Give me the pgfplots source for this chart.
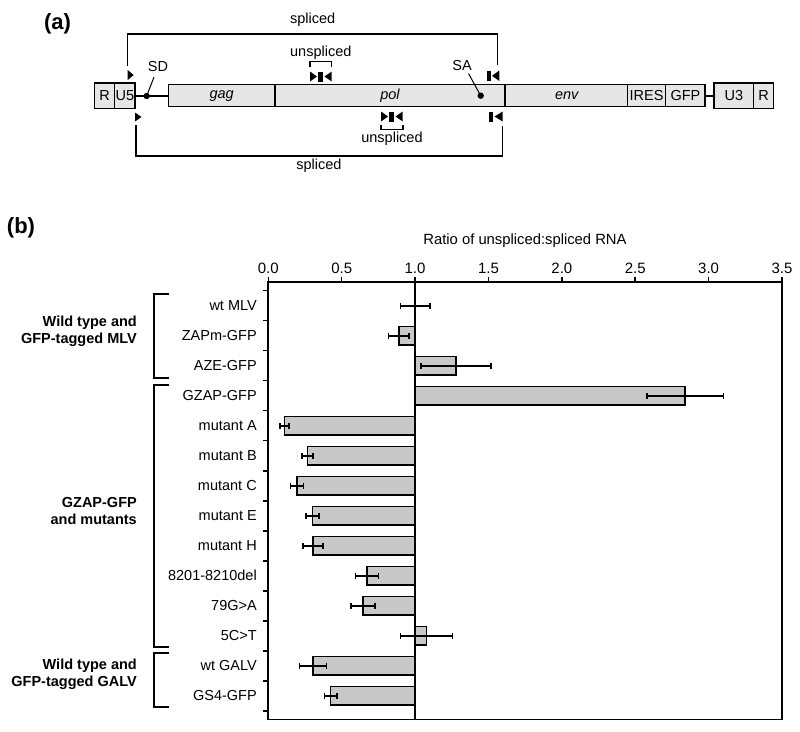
\documentclass[border=0pt]{standalone}
\usepackage{fontspec}
\setmainfont{Liberation Sans}
\usepackage{pgfplots}
\pgfplotsset{compat=1.18}
\usepackage{pgfplotstable}

\definecolor{barfill}{RGB}{200,200,200}
\definecolor{boxfill}{RGB}{230,230,230}

% ratio of unspliced:spliced RNA, one row per construct (top to bottom)
\pgfplotstableread{
idx v     e
0   1.000 0.100
1   0.890 0.070
2   1.278 0.238
3   2.840 0.260
4   0.110 0.030
5   0.268 0.037
6   0.195 0.045
7   0.300 0.045
8   0.305 0.068
9   0.673 0.078
10  0.645 0.083
11  1.078 0.178
12  0.304 0.092
13  0.426 0.044
}\ratios

\newcommand{\lab}{\fontsize{14.5}{17}\selectfont}

\begin{document}
\begin{tikzpicture}
\begin{scope}[x=1pt,y=-1pt]
  \path[use as bounding box] (0,0) rectangle (800,731);

  % ---------- panel (a): provirus schematic ----------
  \node[font=\fontsize{22}{24}\selectfont\bfseries] at (57.5,23.5) {(a)};
  \begin{scope}[line width=1.5pt]
    \draw (135,96) -- (168.3,96);
    \draw (705,96) -- (714,96);
    \filldraw[fill=boxfill] (94.7,83) rectangle (135,108.5);
    \draw (114.7,83) -- (114.7,108.5);
    \filldraw[fill=boxfill] (168.3,84.5) rectangle (705,106.5);
    \foreach \s in {275,505,627.3,665.7} \draw (\s,84.5) -- (\s,106.5);
    \filldraw[fill=boxfill] (714,83) rectangle (773.3,108.5);
    \draw (753.7,83) -- (753.7,108.5);
    % spliced primers
    \draw (127.7,66) -- (127.7,34) -- (497.7,34) -- (497.7,65);
    \draw (136,125) -- (136,156) -- (502.3,156) -- (502.3,126);
    % unspliced brackets
    \draw (310,66.7) -- (310,61.7) -- (331.7,61.7) -- (331.7,66.7);
    \draw (381,125) -- (381,129.5) -- (403,129.5) -- (403,125);
    % SD / SA leaders
    \draw[line width=1pt] (146.7,96) -- (154,77);
    \draw[line width=1pt] (480.7,95.7) -- (468.5,73.5);
  \end{scope}
  \fill (146.7,96) circle (3.2);
  \fill (480.7,95.7) circle (3.2);
  % primer symbols
  \fill (127.7,70) -- (133.7,75) -- (127.7,80) -- cycle;
  \fill (486.7,70.5) rectangle (491,81);
  \fill (499.3,70.5) -- (492,75.8) -- (499.3,81) -- cycle;
  \fill (310,71.5) -- (317,76.5) -- (310,81.5) -- cycle;
  \fill (318.3,71.5) rectangle (322.7,81.5);
  \fill (331.7,71.5) -- (324.5,76.5) -- (331.7,81.5) -- cycle;
  \fill (135,112.5) -- (141.5,117) -- (135,121.5) -- cycle;
  \fill (489,111.5) rectangle (493.3,121.5);
  \fill (502.7,111.5) -- (494.5,116.5) -- (502.7,121.5) -- cycle;
  \fill (381,111.5) -- (388,116.5) -- (381,121.5) -- cycle;
  \fill (389.3,111.5) rectangle (393.5,121.5);
  \fill (402.7,111.5) -- (395.5,116.5) -- (402.7,121.5) -- cycle;
  % texts
  \begin{scope}[every node/.style={font=\lab, inner sep=0pt}]
    \node at (104.7,96) {R};
    \node at (124.9,96) {U5};
    \node at (221.7,96) {\itshape gag};
    \node at (390,96) {\itshape pol};
    \node at (566.7,96) {\itshape env};
    \node at (646.5,96) {IRES};
    \node at (685.4,96) {GFP};
    \node at (733.9,96) {U3};
    \node at (763.5,96) {R};
    \node at (158,66.5) {SD};
    \node at (462,66) {SA};
    \node at (312.7,20) {spliced};
    \node at (319,166) {spliced};
    \node at (320.8,52.5) {unspliced};
    \node at (392,139) {unspliced};
  \end{scope}

  % ---------- panel (b): groups and brackets ----------
  \node[font=\fontsize{22}{24}\selectfont\bfseries] at (21,228) {(b)};
  \node at (525,241) {\fontsize{14.8}{17}\selectfont Ratio of unspliced:spliced RNA};
  \begin{scope}[line width=1.8pt]
    \draw (169.3,294) -- (154,294) -- (154,377.7) -- (169.3,377.7);
    \draw (169.3,385) -- (154,385) -- (154,646.7) -- (169.3,646.7);
    \draw (169.3,653.3) -- (154,653.3) -- (154,707.3) -- (169.3,707.3);
  \end{scope}
  \begin{scope}[every node/.style={font=\lab\bfseries, align=right, anchor=east, inner sep=0pt}]
    \node at (137,331.5) {Wild type and\\GFP-tagged MLV};
    \node at (137,510.5) {GZAP-GFP\\and mutants};
    \node at (137,674.5) {Wild type and\\GFP-tagged GALV};
  \end{scope}
\end{scope}

\begin{axis}[
  at={(268.3pt,-719.5pt)}, anchor=south west,
  scale only axis,
  width=513.7pt, height=437.8pt,
  x coord trafo/.code={\pgfmathparse{#1-1}},
  x coord inv trafo/.code={\pgfmathparse{#1+1}},
  xmin=0, xmax=3.5,
  ymin=-0.8, ymax=13.79,
  y dir=reverse,
  axis line style={line width=1.8pt},
  tick align=outside,
  major tick length=5pt,
  tick style={line width=1.5pt, black},
  xtick={0,0.5,1,1.5,2,2.5,3,3.5},
  xticklabels={0.0,0.5,1.0,1.5,2.0,2.5,3.0,3.5},
  xtick pos=top, xticklabel pos=top,
  extra x ticks={1},
  extra x tick labels={},
  extra x tick style={grid=major, major grid style={black, line width=1.8pt}},
  ytick={-0.5,0.5,...,13.5},
  yticklabels={},
  ytick pos=left,
  extra y ticks={0,...,13},
  extra y tick labels={wt MLV,ZAPm-GFP,AZE-GFP,GZAP-GFP,mutant A,mutant B,mutant C,mutant E,mutant H,8201-8210del,79G>A,5C>T,wt GALV,GS4-GFP},
  extra y tick style={major tick length=0pt, yticklabel style={xshift=-8pt}},
  tick label style={font=\fontsize{15}{17}\selectfont},
  yticklabel style={font=\lab},
  /pgf/number format/assume math mode=true,
]
\addplot[xbar, bar width=18.3pt, fill=barfill, draw=black, line width=1.3pt,
  error bars/.cd, x dir=both, x explicit,
  error mark=|,
  error bar style={line width=1.6pt, black},
  error mark options={line width=1.6pt, black, mark size=3.2pt}]
  table[x=v, y=idx, x error=e] {\ratios};
\end{axis}
\end{tikzpicture}
\end{document}
